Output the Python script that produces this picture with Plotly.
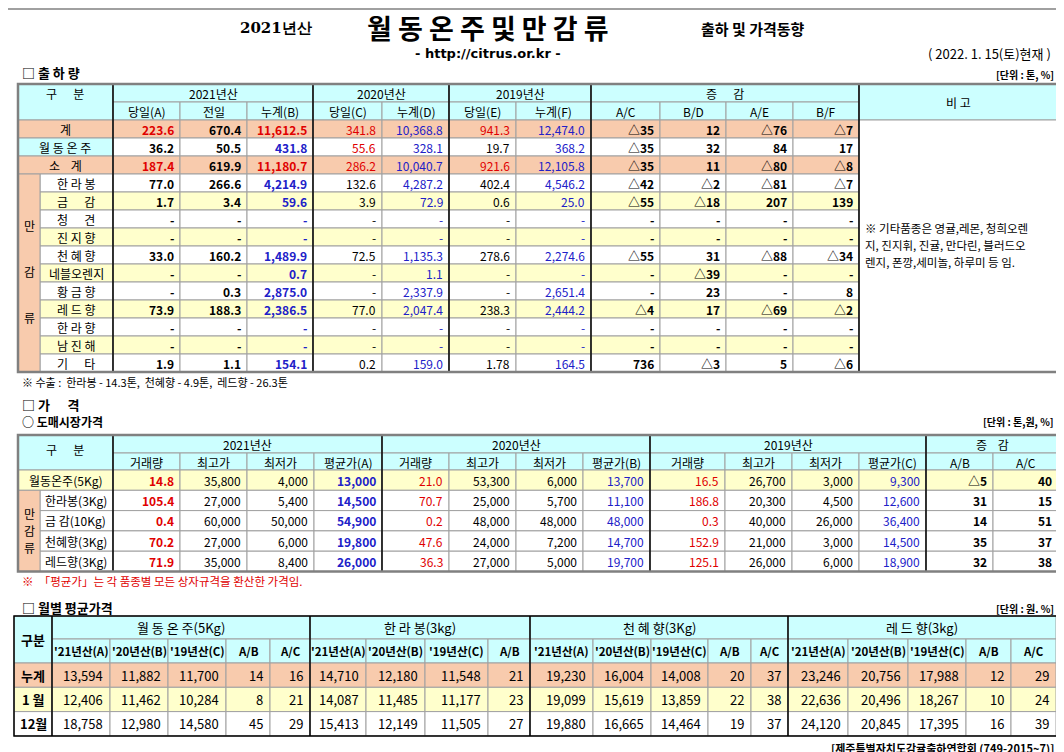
import plotly.graph_objects as go

FONT = "Noto Sans CJK KR"
CYAN = "#CCFFFF"
SALMON = "#F8CBAD"
YELLOW = "#FFFFCC"
WHITE = "#FFFFFF"
RED = "#E00000"
BLUE = "#2020C8"
GRID = "#A0A0A0"

# ---------------- data: 출하량 ----------------
ship_groups = ["2021년산", "2020년산", "2019년산", "증      감"]
ship_cols = ["당일(A)", "전일", "누계(B)", "당일(C)", "누계(D)", "당일(E)", "누계(F)",
             "A/C", "B/D", "A/E", "B/F"]
ship_names = ["계", "월 동 온 주", "소    계", "한 라 봉", "금      감", "청      견", "진 지 향",
              "천 혜 향", "네블오렌지", "황 금 향", "레 드 향", "한 라 향", "남 진 해", "기      타"]
ship_vals = [
    ["223.6", "670.4", "11,612.5", "341.8", "10,368.8", "941.3", "12,474.0", "△35", "12", "△76", "△7"],
    ["36.2", "50.5", "431.8", "55.6", "328.1", "19.7", "368.2", "△35", "32", "84", "17"],
    ["187.4", "619.9", "11,180.7", "286.2", "10,040.7", "921.6", "12,105.8", "△35", "11", "△80", "△8"],
    ["77.0", "266.6", "4,214.9", "132.6", "4,287.2", "402.4", "4,546.2", "△42", "△2", "△81", "△7"],
    ["1.7", "3.4", "59.6", "3.9", "72.9", "0.6", "25.0", "△55", "△18", "207", "139"],
    ["-"] * 11,
    ["-"] * 11,
    ["33.0", "160.2", "1,489.9", "72.5", "1,135.3", "278.6", "2,274.6", "△55", "31", "△88", "△34"],
    ["-", "-", "0.7", "-", "1.1", "-", "-", "-", "△39", "-", "-"],
    ["-", "0.3", "2,875.0", "-", "2,337.9", "-", "2,651.4", "-", "23", "-", "8"],
    ["73.9", "188.3", "2,386.5", "77.0", "2,047.4", "238.3", "2,444.2", "△4", "17", "△69", "△2"],
    ["-"] * 11,
    ["-"] * 11,
    ["1.9", "1.1", "154.1", "0.2", "159.0", "1.78", "164.5", "736", "△3", "5", "△6"],
]
ship_note = ["※ 기타품종은 영귤,레몬, 청희오렌", "지, 진지휘, 진귤, 만다린, 블러드오", "렌지, 폰깡,세미놀, 하루미 등 임."]

# ---------------- data: 도매시장가격 ----------------
price_groups = ["2021년산", "2020년산", "2019년산", "증    감"]
price_cols = ["거래량", "최고가", "최저가", "평균가(A)", "거래량", "최고가", "최저가", "평균가(B)",
              "거래량", "최고가", "최저가", "평균가(C)", "A/B", "A/C"]
price_names = ["월동온주(5Kg)", "한라봉(3Kg)", "금 감(10Kg)", "천혜향(3Kg)", "레드향(3Kg)"]
price_vals = [
    ["14.8", "35,800", "4,000", "13,000", "21.0", "53,300", "6,000", "13,700", "16.5", "26,700", "3,000", "9,300", "△5", "40"],
    ["105.4", "27,000", "5,400", "14,500", "70.7", "25,000", "5,700", "11,100", "186.8", "20,300", "4,500", "12,600", "31", "15"],
    ["0.4", "60,000", "50,000", "54,900", "0.2", "48,000", "48,000", "48,000", "0.3", "40,000", "26,000", "36,400", "14", "51"],
    ["70.2", "27,000", "6,000", "19,800", "47.6", "24,000", "7,200", "14,700", "152.9", "21,000", "3,000", "14,500", "35", "37"],
    ["71.9", "35,000", "8,400", "26,000", "36.3", "27,000", "5,000", "19,700", "125.1", "26,000", "6,000", "18,900", "32", "38"],
]

# ---------------- data: 월별 평균가격 ----------------
month_groups = ["월 동 온 주(5Kg)", "한 라 봉(3kg)", "천 혜 향(3Kg)", "레 드 향(3kg)"]
month_cols = ["'21년산(A)", "'20년산(B)", "'19년산(C)", "A/B", "A/C",
              "'21년산(A)", "'20년산(B)", "'19년산(C)", "A/B",
              "'21년산(A)", "'20년산(B)", "'19년산(C)", "A/B", "A/C",
              "'21년산(A)", "'20년산(B)", "'19년산(C)", "A/B", "A/C"]
month_names = ["누계", "1 월", "12월"]
month_vals = [
    ["13,594", "11,882", "11,700", "14", "16", "14,710", "12,180", "11,548", "21",
     "19,230", "16,004", "14,008", "20", "37", "23,246", "20,756", "17,988", "12", "29"],
    ["12,406", "11,462", "10,284", "8", "21", "14,087", "11,485", "11,177", "23",
     "19,099", "15,619", "13,859", "22", "38", "22,636", "20,496", "18,267", "10", "24"],
    ["18,758", "12,980", "14,580", "45", "29", "15,413", "12,149", "11,505", "27",
     "19,880", "16,665", "14,464", "19", "37", "24,120", "20,845", "17,395", "16", "39"],
]

shapes = []
annots = []


def cell(x0, y0, x1, y1, fill, line=GRID, width=1):
    shapes.append(dict(type="rect", x0=x0, y0=y0, x1=x1, y1=y1, fillcolor=fill,
                       line=dict(color=line, width=width), layer="below"))


def vline(x, y0, y1, color="black", width=1.5):
    shapes.append(dict(type="line", x0=x, x1=x, y0=y0, y1=y1, line=dict(color=color, width=width)))


def border(x0, y0, x1, y1, color="#808080", width=2.5):
    shapes.append(dict(type="rect", x0=x0, y0=y0, x1=x1, y1=y1, line=dict(color=color, width=width)))


def text(x, y, s, size=12, color="black", bold=False, anchor="center", family=FONT):
    if bold:
        s = "<b>" + s + "</b>"
    annots.append(dict(x=x, y=y, text=s, showarrow=False, xanchor=anchor, yanchor="middle",
                       font=dict(family=family, size=size, color=color)))


# ---------------- titles ----------------
shapes.append(dict(type="line", x0=0, x1=1064, y0=1, y1=1, line=dict(color="#A0A0A0", width=2)))
text(268, 20, "2021년산", 15, bold=True, family="DejaVu Serif")
text(480, 19, "월 동 온 주 및 만 감 류", 27, bold=True)
text(745, 20, "출하 및 가격동향", 15, bold=True)
text(480, 45, "- http://citrus.or.kr -", 13, bold=True, family="DejaVu Sans")
text(1045, 45, "( 2022. 1. 15(토)현재 )", 13, anchor="right")
text(12, 64, "□ 출 하 량", 13, bold=True, anchor="left")
text(1048, 66, "[단위 : 톤, %]", 10, bold=True, anchor="right")

# ---------------- table 1 ----------------
t1x = [105, 172, 239, 305, 374, 441, 508, 583, 652, 718, 785, 851]
t1_group_span = [(0, 3), (3, 5), (5, 7), (7, 11)]
hy0, hy1, hy2 = 76, 94, 112
rh = 18
cell(10, hy0, 105, hy2, CYAN)
text(57, 85, "구      분", 12)
for g, (a, b) in zip(ship_groups, t1_group_span):
    cell(t1x[a], hy0, t1x[b], hy1, CYAN)
    text((t1x[a] + t1x[b]) / 2, (hy0 + hy1) / 2, g, 12)
for i, c in enumerate(ship_cols):
    cell(t1x[i], hy1, t1x[i + 1], hy2, CYAN)
    text((t1x[i] + t1x[i + 1]) / 2, (hy1 + hy2) / 2, c, 12)
cell(851, hy0, 1050, hy2, CYAN)
text(950, 94, "비 고", 12)

ship_bold = [True, True, True, False, False, False, False, True, True, True, True]
for r, (name, vals) in enumerate(zip(ship_names, ship_vals)):
    y0 = hy2 + r * rh
    y1 = y0 + rh
    ym = (y0 + y1) / 2
    if r in (0, 2):
        fill, lfill = SALMON, SALMON
        colors = [RED, "black", RED, RED, BLUE, RED, BLUE] + ["black"] * 4
    elif r == 1:
        fill, lfill = WHITE, CYAN
        colors = ["black", "black", BLUE, RED, BLUE, "black", BLUE] + ["black"] * 4
    else:
        fill = YELLOW if r % 2 == 0 else WHITE
        lfill = fill
        colors = ["black", "black", BLUE, "black", BLUE, "black", BLUE] + ["black"] * 4
    if r < 3:
        cell(10, y0, 105, y1, lfill)
        text(57, ym, name, 12)
    else:
        cell(32, y0, 105, y1, lfill)
        text(68, ym, name, 12)
    for i, v in enumerate(vals):
        cell(t1x[i], y0, t1x[i + 1], y1, fill)
        text(t1x[i + 1] - 4, ym, v, 12, colors[i], ship_bold[i], "right")
cell(10, hy2 + 3 * rh, 32, hy2 + 14 * rh, SALMON)
for k, ch in enumerate(["만", "감", "류"]):
    text(21, 217 + k * 46, ch, 12)
cell(851, hy2, 1050, hy2 + 14 * rh, WHITE)
for k, s in enumerate(ship_note):
    text(855, 220 + k * 17, s, 11.5, anchor="left")
for x in (105, 305, 441, 583, 851):
    vline(x, hy0, hy2 + 14 * rh)
border(10, hy0, 1050, hy2 + 14 * rh)
text(12, 374, "※ 수출 :  한라봉 - 14.3톤,  천혜향 - 4.9톤,  레드향 - 26.3톤", 11, anchor="left")

# ---------------- table 2 ----------------
text(12, 396, "□ 가      격", 13, bold=True, anchor="left")
text(12, 413, "○ 도매시장가격", 12, bold=True, anchor="left")
text(1048, 413, "[단위 : 톤,원, %]", 10, bold=True, anchor="right")
t2x = [105, 172, 239, 306, 374, 441, 508, 575, 642, 717, 784, 851, 918, 985, 1050]
t2_group_span = [(0, 4), (4, 8), (8, 12), (12, 14)]
py0, py1, py2 = 427, 445, 462
prh = 20.3
cell(10, py0, 105, py2, CYAN)
text(57, 441, "구      분", 12)
for g, (a, b) in zip(price_groups, t2_group_span):
    cell(t2x[a], py0, t2x[b], py1, CYAN)
    text((t2x[a] + t2x[b]) / 2, (py0 + py1) / 2, g, 12)
for i, c in enumerate(price_cols):
    cell(t2x[i], py1, t2x[i + 1], py2, CYAN)
    text((t2x[i] + t2x[i + 1]) / 2, (py1 + py2) / 2 + 1, c, 12)
price_colors = [RED, "black", "black", BLUE] * 3 + ["black", "black"]
price_bold = [True, False, False, True] + [False] * 8 + [True, True]
for r, (name, vals) in enumerate(zip(price_names, price_vals)):
    y0 = py2 + r * prh
    y1 = y0 + prh
    ym = (y0 + y1) / 2
    fill = YELLOW if r == 0 else WHITE
    if r == 0:
        cell(10, y0, 105, y1, YELLOW)
        text(57, ym, name, 12)
    else:
        cell(32, y0, 105, y1, WHITE)
        text(35, ym, name, 12, anchor="left")
    for i, v in enumerate(vals):
        cell(t2x[i], y0, t2x[i + 1], y1, fill)
        text(t2x[i + 1] - 4, ym, v, 12, price_colors[i], price_bold[i], "right")
cell(10, py2 + prh, 32, py2 + 5 * prh, SALMON)
for k, ch in enumerate(["만", "감", "류"]):
    text(21, 505 + k * 17, ch, 12)
for x in (105, 374, 642, 918):
    vline(x, py0, py2 + 5 * prh)
border(10, py0, 1050, py2 + 5 * prh)
text(12, 573, "※  「평균가」는 각 품종별 모든 상자규격을 환산한 가격임.", 11.5, RED, anchor="left")

# ---------------- table 3 ----------------
text(12, 599, "□ 월별 평균가격", 13, bold=True, anchor="left")
text(1048, 600, "[단위 : 원. %]", 10, bold=True, anchor="right")
t3x = [44, 102, 160, 218, 262, 302, 358, 417, 480, 522, 585, 643, 700, 743, 780,
       840, 900, 958, 1003, 1048]
t3_group_span = [(0, 5), (5, 9), (9, 14), (14, 19)]
my0, my1, my2 = 608, 631, 655
mrh = 24.3
cell(6, my0, 44, my2, CYAN)
text(25, 631, "구분", 13, bold=True)
for g, (a, b) in zip(month_groups, t3_group_span):
    cell(t3x[a], my0, t3x[b], my1, CYAN)
    text((t3x[a] + t3x[b]) / 2, (my0 + my1) / 2, g, 13)
for i, c in enumerate(month_cols):
    cell(t3x[i], my1, t3x[i + 1], my2, CYAN)
    text((t3x[i] + t3x[i + 1]) / 2, (my1 + my2) / 2, c, 11.5, bold=True)
month_fill = [SALMON, YELLOW, WHITE]
for r, (name, vals) in enumerate(zip(month_names, month_vals)):
    y0 = my2 + r * mrh
    y1 = y0 + mrh
    ym = (y0 + y1) / 2
    cell(6, y0, 44, y1, month_fill[r])
    text(25, ym, name, 13, bold=True)
    for i, v in enumerate(vals):
        cell(t3x[i], y0, t3x[i + 1], y1, month_fill[r])
        text(t3x[i + 1] - 5, ym, v, 13, anchor="right")
for x in (44, 302, 522, 780):
    vline(x, my0, my2 + 3 * mrh)
border(6, my0, 1050, my2 + 3 * mrh, "black", 1.5)
text(1048, 740, "[제주특별자치도감귤출하연합회 (749-2015~7)]", 11, bold=True, anchor="right")

fig = go.Figure()
fig.add_trace(go.Scatter(x=[0, 1064], y=[0, 752], mode="markers", marker=dict(opacity=0),
                         hoverinfo="skip", showlegend=False))
fig.update_layout(
    width=1064, height=752, margin=dict(l=0, r=0, t=0, b=0),
    paper_bgcolor="white", plot_bgcolor="white",
    xaxis=dict(range=[0, 1064], visible=False, fixedrange=True),
    yaxis=dict(range=[752, 0], visible=False, fixedrange=True),
    shapes=shapes, annotations=annots,
)
fig.write_html("out.html")
